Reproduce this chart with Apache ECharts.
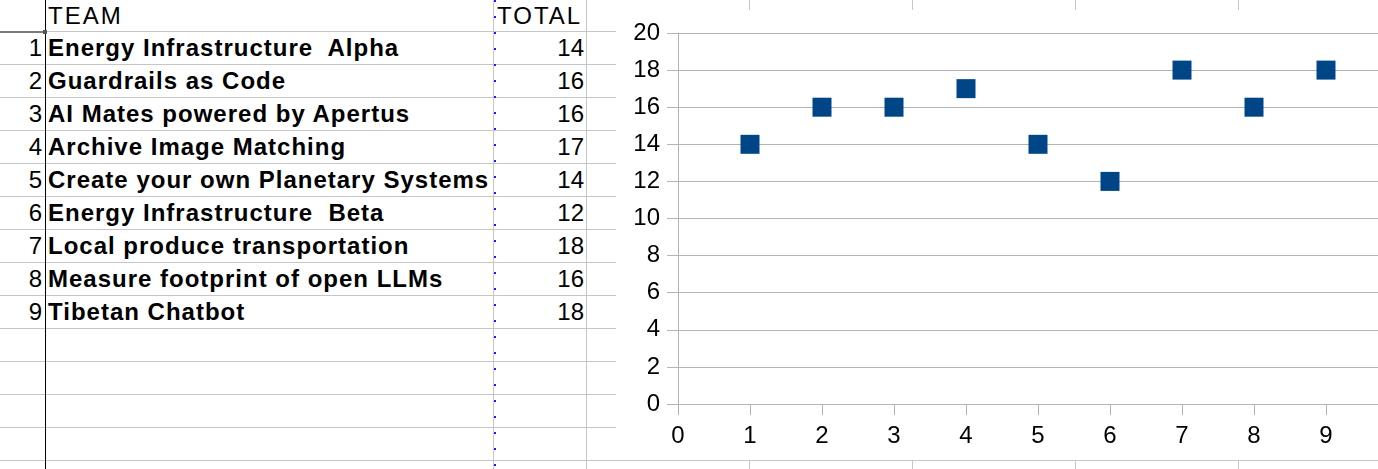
<!DOCTYPE html>
<html>
<head>
<meta charset="utf-8">
<script src="https://cdn.jsdelivr.net/npm/echarts@6/dist/echarts.min.js"></script>
<style>
  html, body {
    margin: 0;
    padding: 0;
    width: 1378px;
    height: 469px;
    overflow: hidden;
    background: #fff;
    font-family: "Liberation Sans", Arial, sans-serif;
  }
  #sheet {
    position: absolute;
    left: 0;
    top: 0;
    width: 1378px;
    height: 469px;
  }
  .hline { position: absolute; left: 0; width: 1378px; height: 1px; background: #c6c6c6; }
  .vline { position: absolute; top: 0; width: 1px; height: 469px; background: #c6c6c6; }
  .cell {
    position: absolute;
    height: 33px;
    line-height: 33px;
    font-size: 24px;
    color: #000;
    white-space: pre;
  }
  .head { letter-spacing: 2px; }
  .num { text-align: right; }
  .bold { font-weight: bold; letter-spacing: 1px; }
  #chartBox {
    position: absolute;
    left: 616px;
    top: 10px;
    width: 782px;
    height: 450px;
    background: #fff;
  }
  #main {
    width: 782px;
    height: 450px;
  }
</style>
</head>
<body>
<div id="sheet"></div>
<div id="chartBox"><div id="main"></div></div>
<script>
// 表格数据
var headers = ['TEAM', 'TOTAL'];
var rowNumbers = [1, 2, 3, 4, 5, 6, 7, 8, 9];
var teams = [
  'Energy Infrastructure  Alpha',
  'Guardrails as Code',
  'AI Mates powered by Apertus',
  'Archive Image Matching',
  'Create your own Planetary Systems',
  'Energy Infrastructure  Beta',
  'Local produce transportation',
  'Measure footprint of open LLMs',
  'Tibetan Chatbot'
];
var totals = [14, 16, 16, 17, 14, 12, 18, 16, 18];
// 坐标轴刻度
var yTicks = { min: 0, max: 20, interval: 2 };
var xTicks = { min: 0, max: 10, interval: 1 };

// 画电子表格背景
function drawSheet () {
  var sheet = document.getElementById('sheet');
  var html = '';
  // 横线
  for (var k = 0; k < 14; k++) {
    html += '<div class="hline" style="top:' + (31 + 33 * k) + 'px"></div>';
  }
  // 行号列下方的深色线
  html += '<div style="position:absolute;left:0;top:31px;width:44px;height:2px;background:#7a7a7a"></div>';
  // 竖线
  var cols = [493, 586, 749, 912, 1075, 1238];
  for (var c = 0; c < cols.length; c++) {
    html += '<div class="vline" style="left:' + cols[c] + 'px"></div>';
  }
  html += '<div class="vline" style="left:45px;background:#000"></div>';
  html += '<div style="position:absolute;left:43px;top:30px;width:4px;height:4px;background:#555"></div>';
  // 分页符（蓝色点线）
  for (var d = 0; d < 30; d++) {
    html += '<div style="position:absolute;left:494px;top:' + (d * 16) + 'px;width:2px;height:2px;background:#1a1aff"></div>';
  }
  // 表头
  html += '<div class="cell head" style="left:48px;top:0;height:31px;line-height:31px">' + headers[0] + '</div>';
  html += '<div class="cell head" style="left:497px;top:0;height:31px;line-height:31px">' + headers[1] + '</div>';
  // 数据行
  for (var i = 0; i < teams.length; i++) {
    var top = 31 + 33 * i;
    html += '<div class="cell num" style="left:0;width:42px;top:' + top + 'px">' + rowNumbers[i] + '</div>';
    html += '<div class="cell bold" style="left:48px;top:' + top + 'px">' + teams[i] + '</div>';
    html += '<div class="cell num" style="left:496px;width:88px;top:' + top + 'px">' + totals[i] + '</div>';
  }
  sheet.innerHTML = html;
}

// 初始化echarts散点图
function initCharts () {
  var myChart = echarts.init(document.getElementById('main'), null, { renderer: 'canvas' });
  var points = [];
  for (var i = 0; i < totals.length; i++) {
    points.push([rowNumbers[i], totals[i]]);
  }
  var gridColor = '#b3b3b3';
  var option = {
    animation: false,
    grid: {
      left: 62,
      top: 23,
      width: 720,
      height: 371,
      containLabel: false,
      outerBoundsMode: 'none'
    },
    xAxis: {
      type: 'value',
      min: xTicks.min,
      max: xTicks.max,
      interval: xTicks.interval,
      axisLine: { show: false },
      axisTick: { show: true, length: 11, lineStyle: { color: gridColor } },
      splitLine: { show: false },
      axisLabel: {
        margin: 20,
        fontSize: 24,
        color: '#000',
        fontFamily: 'Liberation Sans',
        hideOverlap: false
      }
    },
    yAxis: {
      type: 'value',
      min: yTicks.min,
      max: yTicks.max,
      interval: yTicks.interval,
      axisLine: { show: true, lineStyle: { color: gridColor } },
      axisTick: { show: true, length: 11, lineStyle: { color: gridColor } },
      splitLine: { show: true, lineStyle: { color: gridColor } },
      axisLabel: {
        margin: 18,
        fontSize: 24,
        color: '#000',
        fontFamily: 'Liberation Sans'
      }
    },
    series: [{
      type: 'scatter',
      symbol: 'rect',
      symbolSize: 19,
      itemStyle: { color: '#004586', opacity: 1 },
      data: points
    }]
  };
  myChart.setOption(option);
}

drawSheet();
initCharts();
</script>
</body>
</html>
